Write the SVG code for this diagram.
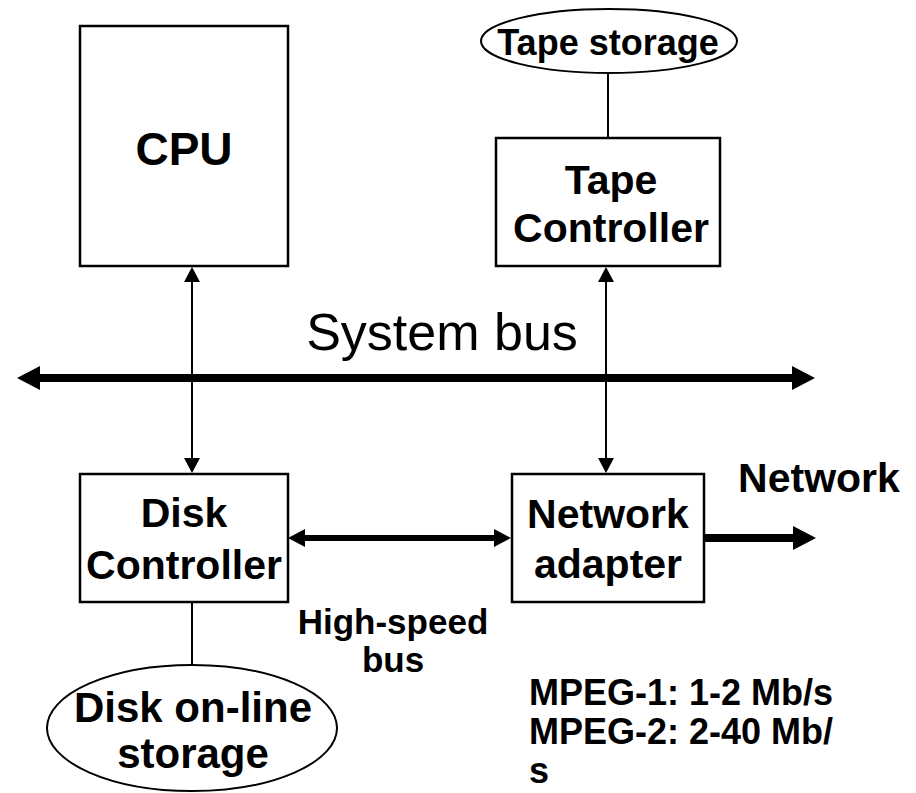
<svg xmlns="http://www.w3.org/2000/svg" width="916" height="793" viewBox="0 0 916 793">
<defs>
<style>
.box{fill:#fff;stroke:#000;stroke-width:2.5}
.ell{fill:#fff;stroke:#000;stroke-width:2}
.t{font-family:"Liberation Sans",Arial,sans-serif;font-weight:bold;fill:#000;text-anchor:middle}
.thin{stroke:#000;stroke-width:2;fill:none}
</style>
<marker id="big" markerUnits="userSpaceOnUse" markerWidth="24" markerHeight="26" refX="0" refY="12" orient="auto-start-reverse"><path d="M0,0 L23,12 L0,24 z" fill="#000"/></marker>
<marker id="med" markerUnits="userSpaceOnUse" markerWidth="18" markerHeight="20" refX="0" refY="9" orient="auto-start-reverse"><path d="M0,0 L17,9 L0,18 z" fill="#000"/></marker>
<marker id="sm" markerUnits="userSpaceOnUse" markerWidth="16" markerHeight="18" refX="0" refY="8" orient="auto-start-reverse"><path d="M0,0 L15,8 L0,16 z" fill="#000"/></marker>
</defs>
<rect width="916" height="793" fill="#fff"/>
<g id="connectors">
<line class="thin" x1="608" y1="73" x2="608" y2="138"/>
<line class="thin" x1="192" y1="602" x2="192" y2="665"/>
<line class="thin" x1="192" y1="282" x2="192" y2="458" marker-start="url(#sm)" marker-end="url(#sm)"/>
<line class="thin" x1="606" y1="282" x2="606" y2="458" marker-start="url(#sm)" marker-end="url(#sm)"/>
<line x1="40" y1="378" x2="792" y2="378" stroke="#000" stroke-width="8" marker-start="url(#big)" marker-end="url(#big)"/>
<line x1="305" y1="538" x2="494" y2="538" stroke="#000" stroke-width="6" marker-start="url(#med)" marker-end="url(#med)"/>
<line x1="704" y1="538" x2="793" y2="538" stroke="#000" stroke-width="8" marker-end="url(#big)"/>
</g>
<g id="cpu">
<rect class="box" x="80" y="26" width="208" height="240"/>
<text class="t" x="184" y="165" font-size="46">CPU</text>
</g>
<g id="tape-storage">
<ellipse class="ell" cx="609" cy="41" rx="128" ry="32"/>
<text class="t" x="608" y="55" font-size="36">Tape storage</text>
</g>
<g id="tape-controller">
<rect class="box" x="496" y="138" width="224" height="128"/>
<text class="t" x="611" y="194" font-size="41">Tape</text>
<text class="t" x="611" y="242" font-size="41">Controller</text>
</g>
<g id="system-bus-label">
<text x="442" y="350" font-size="52" font-family="'Liberation Sans',Arial,sans-serif" text-anchor="middle" fill="#000">System bus</text>
</g>
<g id="disk-controller">
<rect class="box" x="80" y="474" width="208" height="128"/>
<text class="t" x="184" y="527" font-size="41">Disk</text>
<text class="t" x="184" y="579" font-size="41">Controller</text>
</g>
<g id="network-adapter">
<rect class="box" x="512" y="474" width="192" height="128"/>
<text class="t" x="608" y="528" font-size="41">Network</text>
<text class="t" x="608" y="578" font-size="41">adapter</text>
</g>
<g id="network-label">
<text class="t" x="819" y="492" font-size="41">Network</text>
</g>
<g id="high-speed-label">
<text class="t" x="393" y="634" font-size="35">High-speed</text>
<text class="t" x="393" y="672" font-size="35">bus</text>
</g>
<g id="disk-storage">
<ellipse class="ell" cx="192" cy="728" rx="145" ry="63"/>
<text class="t" x="193" y="722" font-size="42">Disk on-line</text>
<text class="t" x="193" y="768" font-size="42">storage</text>
</g>
<g id="mpeg-note">
<text class="t" x="529" y="705" font-size="36" text-anchor="start" style="text-anchor:start">MPEG-1: 1-2 Mb/s</text>
<text class="t" x="529" y="744" font-size="36" style="text-anchor:start">MPEG-2: 2-40 Mb/</text>
<text class="t" x="529" y="783" font-size="36" style="text-anchor:start">s</text>
</g>
</svg>
